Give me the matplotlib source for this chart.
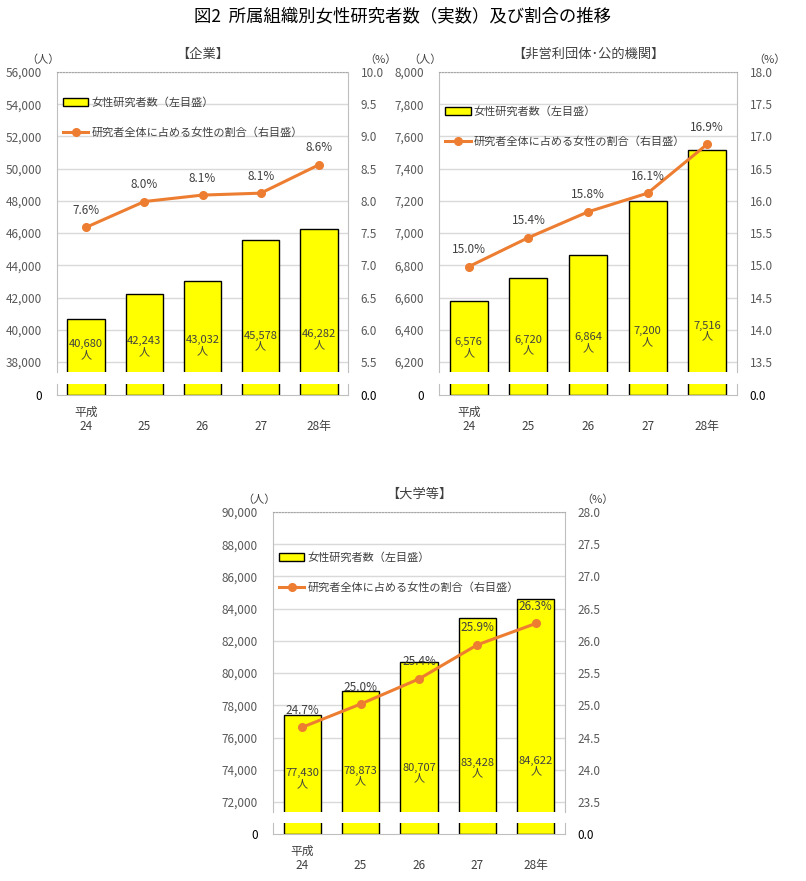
import matplotlib
matplotlib.use("Agg")
import matplotlib.pyplot as plt
from matplotlib.patches import Patch
from matplotlib.lines import Line2D
from matplotlib.ticker import FuncFormatter

plt.rcParams['font.family'] = ['Noto Sans CJK JP', 'DejaVu Sans']

# data
year_labels = ["平成\n24", "\n25", "\n26", "\n27", "\n28年"]

corp_counts = [40680, 42243, 43032, 45578, 46282]
corp_pct = [7.59, 7.99, 8.09, 8.12, 8.56]

npo_counts = [6576, 6720, 6864, 7200, 7516]
npo_pct = [14.98, 15.43, 15.83, 16.12, 16.88]

univ_counts = [77430, 78873, 80707, 83428, 84622]
univ_pct = [24.66, 25.02, 25.41, 25.94, 26.27]

bar_name = "女性研究者数（左目盛）"
line_name = "研究者全体に占める女性の割合（右目盛）"

W, H = 806, 881
BAR_YELLOW = "#FFFF00"
LINE_ORANGE = "#ED7D31"
TXT = "#404040"
TICK = "#595959"
GRID = "#D9D9D9"
SPINE = "#BFBFBF"


def rect(x0, y0, x1, y1):
    return [x0 / W, 1 - y1 / H, (x1 - x0) / W, (y1 - y0) / H]


def panel(fig, x0, x1, ytop, ybot, ylow_top, ylow_bot, title, counts, pct,
          lticks, llim, rticks, rlim, leg_y, lab_base):
    xs = list(range(len(counts)))
    ax = fig.add_axes(rect(x0, ytop, x1, ybot))
    axr = ax.twinx()
    axb = fig.add_axes(rect(x0, ylow_top, x1, ylow_bot))
    axbr = axb.twinx()

    # upper part (broken axis)
    ax.bar(xs, counts, width=0.64, color=BAR_YELLOW, edgecolor="black", linewidth=1.0)
    ax.set_xlim(-0.5, len(counts) - 0.5)
    ax.set_ylim(*llim)
    ax.set_yticks(lticks)
    ax.yaxis.set_major_formatter(FuncFormatter(lambda v, p: f"{int(v):,}"))
    ax.set_axisbelow(True)
    ax.yaxis.grid(True, color=GRID, linewidth=1.0)
    ax.set_xticks([])
    ax.tick_params(axis="y", length=0, pad=11, labelsize=8.5, labelcolor=TICK)
    ax.spines["bottom"].set_visible(False)
    ax.spines["left"].set_color(SPINE)
    ax.spines["right"].set_color(SPINE)
    ax.spines["top"].set_color("#A6A6A6")
    ax.spines["top"].set_linestyle(":")

    axr.plot(xs, pct, color=LINE_ORANGE, linewidth=2.2, marker="o", markersize=5.5)
    axr.set_ylim(*rlim)
    axr.set_yticks(rticks)
    axr.yaxis.set_major_formatter(FuncFormatter(lambda v, p: f"{v:.1f}"))
    axr.tick_params(axis="y", length=0, pad=9, labelsize=8.5, labelcolor=TICK)
    for s in axr.spines.values():
        s.set_visible(False)

    for x, p in zip(xs, pct):
        axr.annotate(f"{p:.1f}%", (x, p), xytext=(0, 17), textcoords="offset pixels",
                     ha="center", va="center", fontsize=8.5, color=TXT)

    span = llim[1] - llim[0]
    for x, c in zip(xs, counts):
        fy = lab_base + 0.11 * (c - llim[0]) / span
        ax.text(x, fy, f"{c:,}\n人", transform=ax.get_xaxis_transform(),
                ha="center", va="center", fontsize=8, color=TXT, linespacing=1.1)

    handles = [Patch(facecolor=BAR_YELLOW, edgecolor="black", linewidth=1.0),
               Line2D([], [], color=LINE_ORANGE, linewidth=2.2, marker="o", markersize=5.5)]
    axr.legend(handles, [bar_name, line_name], loc="upper left",
               bbox_to_anchor=(0.02, leg_y), frameon=False, fontsize=8,
               handlelength=2.3, handletextpad=0.3, labelspacing=1.75,
               borderpad=0, borderaxespad=0, labelcolor=TXT)

    # lower part
    axb.bar(xs, counts, width=0.64, color=BAR_YELLOW, edgecolor="black", linewidth=1.0)
    axb.set_xlim(-0.5, len(counts) - 0.5)
    axb.set_ylim(0, 1)
    axb.set_yticks([0])
    axb.set_yticklabels(["0"])
    axb.set_xticks(xs)
    axb.set_xticklabels(year_labels)
    axb.tick_params(axis="x", length=0, pad=7.5, labelsize=8.5, labelcolor=TXT)
    axb.tick_params(axis="y", length=0, pad=11, labelsize=8.5, labelcolor="black")
    axb.spines["top"].set_visible(False)
    for s in ["left", "right", "bottom"]:
        axb.spines[s].set_color(SPINE)
    axbr.set_ylim(0, 1)
    axbr.set_yticks([0])
    axbr.set_yticklabels(["0.0"])
    axbr.tick_params(axis="y", length=0, pad=9, labelsize=8.5, labelcolor="black")
    for s in axbr.spines.values():
        s.set_visible(False)

    # titles and units
    ax.annotate(title, (0.5, 1), xycoords="axes fraction", xytext=(0, 18),
                textcoords="offset pixels", ha="center", va="center", fontsize=9.5, color=TXT)
    ax.annotate("（人）", (0, 1), xycoords="axes fraction", xytext=(-14, 12),
                textcoords="offset pixels", ha="center", va="center", fontsize=8, color=TXT)
    ax.annotate("（%）", (1, 1), xycoords="axes fraction", xytext=(32, 12),
                textcoords="offset pixels", ha="center", va="center", fontsize=8, color=TXT)


fig = plt.figure(figsize=(W / 100, H / 100), dpi=100)
fig.patch.set_facecolor("white")

fig.text(0.5, 1 - 16 / H, "図2  所属組織別女性研究者数（実数）及び割合の推移",
         ha="center", va="center", fontsize=12.5, color="black")

panel(fig, 57, 348, 72, 372, 384, 395, "【企業】", corp_counts, corp_pct,
      list(range(38000, 56001, 2000)), (37380, 56000),
      [5.5 + 0.5 * i for i in range(10)], (5.345, 10.0), 0.915, 0.055)

panel(fig, 439, 737, 72, 372, 384, 395, "【非営利団体･公的機関】", npo_counts, npo_pct,
      list(range(6200, 8001, 200)), (6138, 8000),
      [13.5 + 0.5 * i for i in range(10)], (13.345, 18.0), 0.885, 0.055)

panel(fig, 273, 565, 512, 812, 823, 834, "【大学等】", univ_counts, univ_pct,
      list(range(72000, 90001, 2000)), (71380, 90000),
      [23.5 + 0.5 * i for i in range(10)], (23.345, 28.0), 0.865, 0.075)

fig.savefig("out.png", dpi=100)
